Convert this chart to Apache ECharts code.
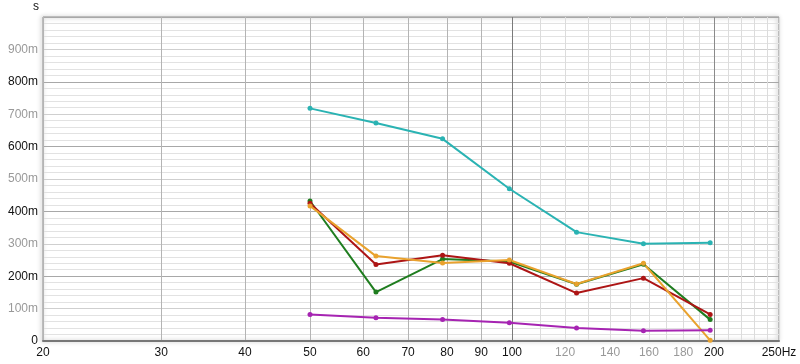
<!DOCTYPE html>
<html>
<head>
<meta charset="utf-8">
<script src="https://cdn.jsdelivr.net/npm/echarts@6/dist/echarts.min.js"></script>
<style>
html,body{margin:0;padding:0;background:#fff;}
#c{width:800px;height:364px;}
</style>
</head>
<body>
<div id="c"></div>
<script>
// ---- data ----
var freqs = [50, 62.7, 78.8, 99.1, 124.8, 157, 197.4];
var cyanVals   = [718, 673, 624, 470, 336, 300, 303];
var greenVals  = [432, 151, 253, 245, 175, 237, 66];
var redVals    = [425, 236, 265, 240, 148, 194, 82];
var orangeVals = [417, 262, 241, 250, 176, 240, 2];
var purpleVals = [82, 72, 66, 56, 40, 32, 33];

var xGridTicks = [20,30,40,50,60,70,80,90,100,110,120,130,140,150,160,170,180,190,200,210,220,230,240,250];
var xLabelTicks = [20,30,40,50,60,70,80,90,100,120,140,160,180,200,250];
var xGreyLabels = [120,140,160,180];
var yLabelStep = 100;

function pairs(vals){ return freqs.map(function(f,i){ return [f, vals[i]]; }); }

var xLineColors = xGridTicks.map(function(v){
  if (v === 100) return '#7a7a7a';
  if (v === 200) return '#8a8a8a';
  if (v < 100) return '#b4b4b4';
  return '#dcdcdc';
});

var yLineColors = ['#a8a8a8','#e2e2e2','#e2e2e2','#e2e2e2','#e2e2e2','#cfcfcf','#e2e2e2','#e2e2e2','#e2e2e2','#e2e2e2'];

function mkSeries(name, vals, color){
  return {
    name: name, type: 'line', data: pairs(vals),
    symbol: 'circle', symbolSize: 5,
    lineStyle: {color: color, width: 2},
    itemStyle: {color: color},
    animation: false
  };
}

var chart = echarts.init(document.getElementById('c'), null, {renderer: 'canvas'});
chart.setOption({
  backgroundColor: '#fff',
  animation: false,
  grid: {
    left: 43, right: 21, top: 17, bottom: 23,
    show: true, borderColor: '#8c8c8c', borderWidth: 1,
    shadowColor: 'rgba(0,0,0,0.45)', shadowBlur: 4, shadowOffsetX: -1, shadowOffsetY: 0
  },
  xAxis: {
    type: 'log', logBase: 10, min: 20, max: 250,
    axisLine: {show: true, onZero: false, lineStyle: {color: '#777', width: 2}},
    axisTick: {show: false, customValues: xGridTicks},
    splitLine: {show: true, lineStyle: {color: xLineColors, width: 1}},
    minorSplitLine: {show: false},
    axisLabel: {
      customValues: xLabelTicks,
      fontFamily: 'Liberation Sans, Arial, sans-serif', fontSize: 12, margin: 6,
      formatter: function(v){ return Math.round(v) === 250 ? '250Hz' : String(Math.round(v)); },
      color: function(v){ return xGreyLabels.indexOf(Math.round(Number(v))) >= 0 ? '#999' : '#111'; }
    }
  },
  yAxis: {
    type: 'value', min: 0, max: 1000, interval: 20,
    name: 's', nameLocation: 'end', nameGap: 4,
    nameTextStyle: {color: '#111', fontFamily: 'Liberation Sans, Arial, sans-serif', fontSize: 12, align: 'right', padding: [0, 4, 0, 0]},
    axisLine: {show: false},
    axisTick: {show: false},
    splitLine: {show: true, lineStyle: {color: yLineColors, width: 1}},
    axisLabel: {
      fontFamily: 'Liberation Sans, Arial, sans-serif', fontSize: 12, margin: 5,
      formatter: function(v){
        if (v % yLabelStep !== 0 || v >= 1000) return '';
        return v === 0 ? '0' : v + 'm';
      },
      color: function(v){ return (Number(v) % 200 === 0) ? '#111' : '#999'; }
    }
  },
  series: [
    mkSeries('cyan', cyanVals, '#2ab3b3'),
    mkSeries('green', greenVals, '#1f7d1f'),
    mkSeries('red', redVals, '#ad1515'),
    mkSeries('orange', orangeVals, '#e9a22e'),
    mkSeries('purple', purpleVals, '#a624b2')
  ]
});
</script>
</body>
</html>
